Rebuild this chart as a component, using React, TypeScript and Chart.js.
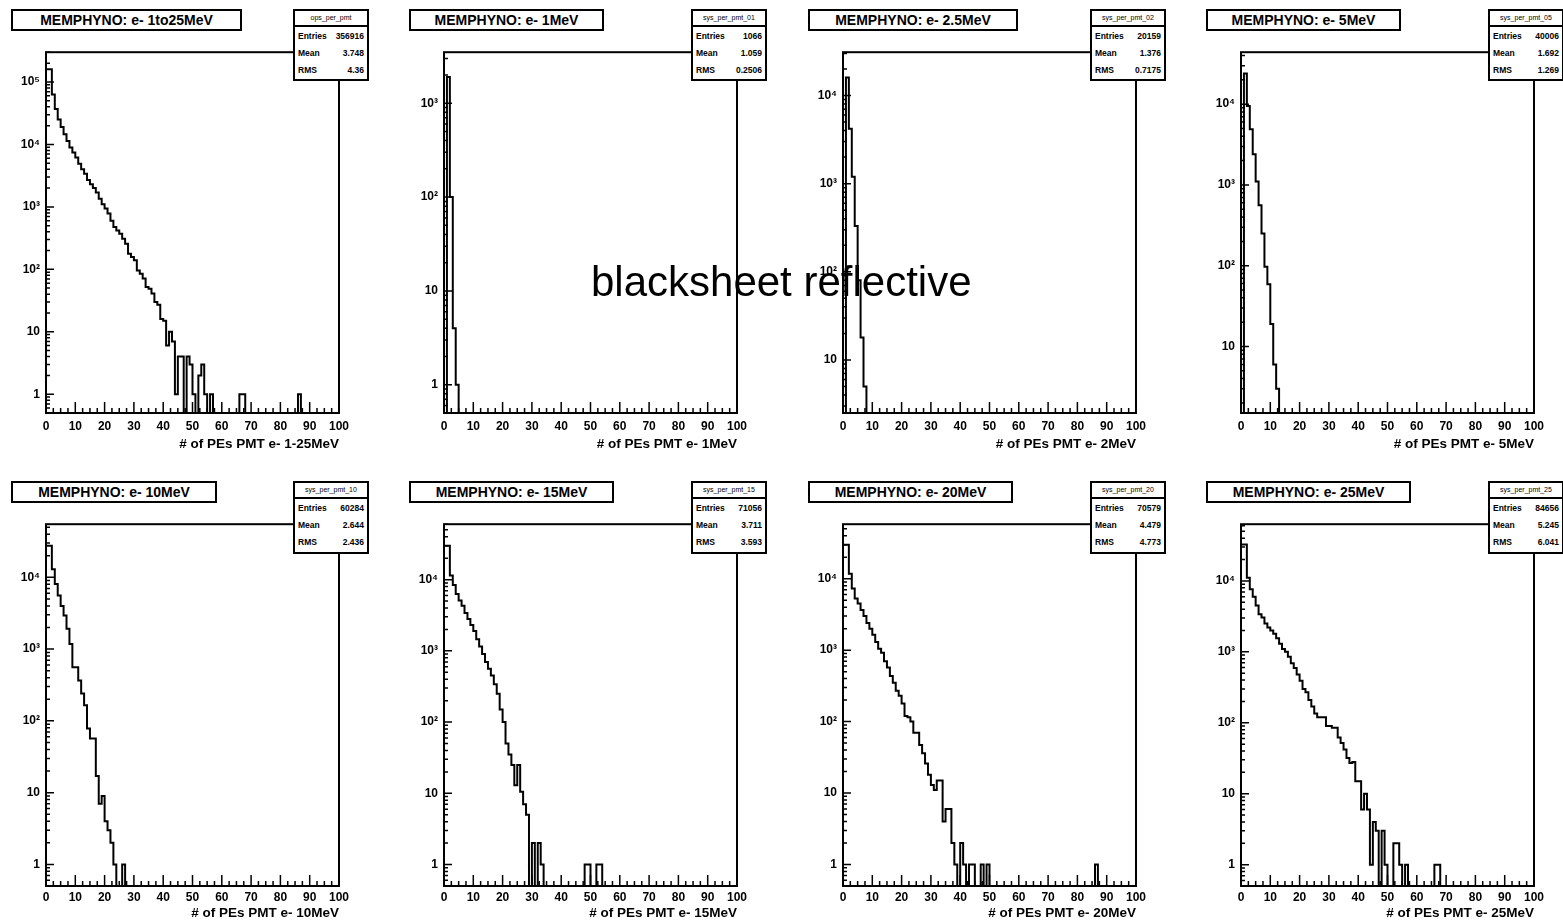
import React, { useEffect, useRef } from "react";
import { Chart, registerables } from "chart.js";

Chart.register(...registerables);

const FONT = '"Liberation Sans", Arial, Helvetica, sans-serif';

// ---------- text ----------
const panelTitles = [
  "MEMPHYNO: e- 1to25MeV",
  "MEMPHYNO: e- 1MeV",
  "MEMPHYNO: e- 2.5MeV",
  "MEMPHYNO: e- 5MeV",
  "MEMPHYNO: e- 10MeV",
  "MEMPHYNO: e- 15MeV",
  "MEMPHYNO: e- 20MeV",
  "MEMPHYNO: e- 25MeV",
];
const xAxisTitles = [
  "# of PEs PMT e- 1-25MeV",
  "# of PEs PMT e- 1MeV",
  "# of PEs PMT e- 2MeV",
  "# of PEs PMT e- 5MeV",
  "# of PEs PMT e- 10MeV",
  "# of PEs PMT e- 15MeV",
  "# of PEs PMT e- 20MeV",
  "# of PEs PMT e- 25MeV",
];
const statNames = [
  "ops_per_pmt",
  "sys_per_pmt_01",
  "sys_per_pmt_02",
  "sys_per_pmt_05",
  "sys_per_pmt_10",
  "sys_per_pmt_15",
  "sys_per_pmt_20",
  "sys_per_pmt_25",
];
const statEntries = ["356916", "1066", "20159", "40006", "60284", "71056", "70579", "84656"];
const statMeans = ["3.748", "1.059", "1.376", "1.692", "2.644", "3.711", "4.479", "5.245"];
const statRms = ["4.36", "0.2506", "0.7175", "1.269", "2.436", "3.593", "4.773", "6.041"];
const overlayText = "blacksheet reflective";

// ---------- axes ----------
const xMin = 0;
const xMax = 100;
const xStep = 10;
const yMins = [0.5, 0.5, 2.5, 1.5, 0.5, 0.5, 0.5, 0.5];
const yMaxs = [300000, 3500, 31000, 44000, 55000, 60000, 58000, 63000];

// ---------- bin contents (bins of width 1 starting at 0) ----------
const countsAll = [
  160000, 160000, 63000, 37000, 25000, 19000, 14500, 11400, 8900, 7400,
  6200, 4900, 4000, 3400, 2700, 2300, 2000, 1700, 1350, 1100,
  940, 780, 600, 475, 420, 370, 310, 257, 178, 158,
  140, 96, 85, 71, 52, 49, 41, 30, 27, 16,
  15, 6, 10, 7, 1, 4, 4, 0, 4, 3,
  1, 0, 2, 3, 1, 0, 1, 0, 0, 0,
  0, 0, 0, 0, 0, 0, 1, 1, 0, 0,
  0, 0, 0, 0, 0, 0, 0, 0, 0, 0,
  0, 0, 0, 0, 0, 0, 1,
];
const counts1MeV = [0, 1900, 100, 4, 1];
const counts2p5MeV = [0, 16000, 4200, 1200, 330, 80, 18, 5];
const counts5MeV = [0, 24000, 9500, 4900, 2400, 1100, 560, 250, 97, 59, 19, 6, 3];
const counts10MeV = [
  27500, 27500, 13000, 8100, 5600, 4000, 2950, 1920, 1180, 560,
  560, 365, 240, 165, 78, 57, 57, 17, 7, 9,
  4, 3, 2, 1, 0, 0, 1,
];
const counts15MeV = [
  30000, 30000, 11400, 8400, 6300, 5100, 4300, 3400, 2800, 2300,
  1900, 1450, 1150, 900, 700, 560, 450, 340, 250, 150,
  100, 50, 35, 25, 13, 25, 10.5, 7, 5, 0,
  2, 0, 2, 1, 0, 0, 0, 0, 0, 0,
  0, 0, 0, 0, 0, 0, 0, 0, 1, 1,
  0, 0, 1, 1,
];
const counts20MeV = [
  30000, 30000, 11700, 7300, 5300, 4500, 3650, 3000, 2400, 2000,
  1650, 1300, 1050, 920, 700, 570, 435, 350, 270, 230,
  180, 120, 115, 100, 70, 70, 47, 36, 26, 18,
  13, 11, 15, 15, 4, 6, 6, 2, 1, 0,
  2, 1, 0, 1, 1, 0, 0, 1, 0, 1,
  0, 0, 0, 0, 0, 0, 0, 0, 0, 0,
  0, 0, 0, 0, 0, 0, 0, 0, 0, 0,
  0, 0, 0, 0, 0, 0, 0, 0, 0, 0,
  0, 0, 0, 0, 0, 0, 1,
];
const counts25MeV = [
  32500, 32500, 11100, 7600, 6000, 4500, 3400, 3050, 2500, 2200,
  2000, 1800, 1550, 1300, 1100, 1000, 850, 690, 590, 480,
  390, 300, 270, 210, 170, 135, 120, 120, 120, 90,
  90, 85, 85, 62, 52, 42, 32, 27, 28, 15,
  15, 6, 10, 6, 1, 4, 3, 0, 3, 1,
  0, 0, 2, 2, 1, 0, 1, 0, 0, 0,
  0, 0, 0, 0, 0, 0, 1, 1,
];
const panelCounts = [
  countsAll, counts1MeV, counts2p5MeV, counts5MeV,
  counts10MeV, counts15MeV, counts20MeV, counts25MeV,
];

// ---------- layout (pixels) ----------
const FRAME_LEFT = [46, 444, 843, 1241];
const FRAME_TOP = [51, 523];
const FRAME_H = [362, 363];
const FRAME_W = 293;
const BOX_TOP = [9, 481];
const TITLE_W = [231, 195, 210, 195, 206, 205, 205, 205];
const AXIS_H = [44, 40];
const TICK_PAD = [6, 4];
const Y_AXIS_W = 40;
const PAD_TOP = 12;
const PAD_RIGHT = 16;
const BELOW_AXIS = 1e-3;

const SUP: Record<string, string> = { "2": "\u00b2", "3": "\u00b3", "4": "\u2074", "5": "\u2075", "6": "\u2076" };

function decadeLabel(v: number): string {
  const e = Math.round(Math.log10(v));
  if (e === 0) return "1";
  if (e === 1) return "10";
  return "10" + (SUP[String(e)] || "^" + e);
}

const rootAxesPlugin = {
  id: "rootAxes",
  afterDatasetsDraw(chart: any) {
    const { ctx, chartArea: a, scales } = chart;
    const xs = scales.x;
    const ys = scales.y;
    ctx.save();
    ctx.strokeStyle = "#000";
    ctx.lineWidth = 1.5;
    ctx.beginPath();
    const nDiv = 40;
    for (let k = 0; k <= nDiv; k++) {
      const v = xs.min + (k * (xs.max - xs.min)) / nDiv;
      const px = xs.getPixelForValue(v);
      const len = k % 4 === 0 ? 11 : 5;
      ctx.moveTo(px, a.bottom);
      ctx.lineTo(px, a.bottom - len);
    }
    const e0 = Math.floor(Math.log10(ys.min));
    const e1 = Math.ceil(Math.log10(ys.max));
    for (let e = e0; e <= e1; e++) {
      for (let m = 1; m <= 9; m++) {
        const v = m * Math.pow(10, e);
        if (v < ys.min || v > ys.max) continue;
        const py = ys.getPixelForValue(v);
        const len = m === 1 ? 8 : 4;
        ctx.moveTo(a.left, py);
        ctx.lineTo(a.left + len, py);
      }
    }
    ctx.stroke();
    ctx.lineWidth = 2;
    ctx.strokeRect(a.left, a.top, a.right - a.left, a.bottom - a.top);
    ctx.restore();
  },
};

function Panel({ index }: { index: number }) {
  const ref = useRef<HTMLCanvasElement>(null);
  const col = index % 4;
  const row = Math.floor(index / 4);
  const L = FRAME_LEFT[col];
  const T = FRAME_TOP[row];
  const H = FRAME_H[row];
  const cw = Y_AXIS_W + FRAME_W + PAD_RIGHT;
  const chh = PAD_TOP + H + AXIS_H[row];

  useEffect(() => {
    const counts = panelCounts[index];
    const pts = counts.map((v, i) => ({ x: xMin + i, y: v > 0 ? v : BELOW_AXIS }));
    pts.push({ x: xMin + counts.length, y: BELOW_AXIS });
    const yMin = yMins[index];
    const yMax = yMaxs[index];
    const tickFont = { family: FONT, size: 12, weight: "bold" as const };
    const chart = new Chart(ref.current as HTMLCanvasElement, {
      type: "line",
      data: {
        datasets: [
          {
            data: pts,
            borderColor: "#000",
            borderWidth: 2,
            pointRadius: 0,
            stepped: true,
            fill: false,
            tension: 0,
            borderJoinStyle: "miter",
          } as any,
        ],
      },
      options: {
        animation: false,
        responsive: false,
        events: [],
        layout: { padding: { top: PAD_TOP, right: PAD_RIGHT, left: 0, bottom: 0 } },
        plugins: {
          legend: { display: false },
          tooltip: { enabled: false },
          title: { display: false },
        },
        scales: {
          x: {
            type: "linear",
            min: xMin,
            max: xMax,
            bounds: "data",
            grid: { display: false, drawTicks: false },
            border: { display: false },
            ticks: {
              stepSize: xStep,
              padding: TICK_PAD[row],
              color: "#000",
              font: tickFont,
              maxRotation: 0,
              minRotation: 0,
              autoSkip: false,
            },
            title: {
              display: true,
              text: xAxisTitles[index],
              align: "end",
              color: "#000",
              font: { family: FONT, size: 13.5, weight: "bold" },
              padding: { top: 0, bottom: 5 },
            },
            afterFit: (s: any) => {
              s.height = AXIS_H[row];
            },
          },
          y: {
            type: "logarithmic",
            min: yMin,
            max: yMax,
            bounds: "data",
            grid: { display: false, drawTicks: false },
            border: { display: false },
            ticks: {
              padding: 6,
              color: "#000",
              font: tickFont,
              autoSkip: false,
              callback: (v: any) => decadeLabel(Number(v)),
            },
            afterBuildTicks: (s: any) => {
              const out: { value: number }[] = [];
              const a = Math.ceil(Math.log10(yMin) - 1e-9);
              const b = Math.floor(Math.log10(yMax) + 1e-9);
              for (let e = a; e <= b; e++) out.push({ value: Math.pow(10, e) });
              s.ticks = out;
            },
            afterFit: (s: any) => {
              s.width = Y_AXIS_W;
            },
          },
        },
      } as any,
      plugins: [rootAxesPlugin],
    });
    return () => chart.destroy();
  }, [index]);

  const boxTop = BOX_TOP[row];
  const statsLeft = L + FRAME_W - 46;
  const statsH = row === 0 ? 72 : 73;
  const rowStyle: React.CSSProperties = {
    display: "flex",
    justifyContent: "space-between",
    alignItems: "center",
    height: 17,
    padding: "0 3px",
    fontSize: 8.5,
    fontWeight: "bold",
    whiteSpace: "nowrap",
  };

  return (
    <>
      <canvas
        ref={ref}
        width={cw}
        height={chh}
        style={{ position: "absolute", left: L - Y_AXIS_W, top: T - PAD_TOP, width: cw, height: chh }}
      />
      <div
        style={{
          position: "absolute",
          left: L - 35,
          top: boxTop,
          width: TITLE_W[index],
          height: 22,
          boxSizing: "border-box",
          border: "2px solid #000",
          background: "#fff",
          fontFamily: FONT,
          fontWeight: "bold",
          fontSize: 14,
          lineHeight: "18px",
          textAlign: "center",
          color: "#000",
          whiteSpace: "nowrap",
        }}
      >
        {panelTitles[index]}
      </div>
      <div
        style={{
          position: "absolute",
          left: statsLeft,
          top: boxTop,
          width: 76,
          height: statsH,
          boxSizing: "border-box",
          border: "2px solid #000",
          background: "#fff",
          fontFamily: FONT,
          color: "#000",
        }}
      >
        <div
          style={{
            height: 14,
            borderBottom: "2px solid #000",
            fontSize: 7,
            lineHeight: "14px",
            textAlign: "center",
            whiteSpace: "nowrap",
          }}
        >
          {statNames[index]}
        </div>
        <div style={rowStyle}>
          <span>Entries</span>
          <span>{statEntries[index]}</span>
        </div>
        <div style={rowStyle}>
          <span>Mean</span>
          <span>{statMeans[index]}</span>
        </div>
        <div style={rowStyle}>
          <span>RMS</span>
          <span>{statRms[index]}</span>
        </div>
      </div>
    </>
  );
}

export default function App() {
  return (
    <div
      style={{
        position: "absolute",
        left: 0,
        top: 0,
        width: 1563,
        height: 924,
        overflow: "hidden",
        background: "#fff",
      }}
    >
      {panelTitles.map((_, i) => (
        <Panel key={i} index={i} />
      ))}
      <div
        style={{
          position: "absolute",
          left: 591,
          top: 261,
          fontFamily: FONT,
          fontSize: 42,
          lineHeight: "42px",
          color: "#000",
          whiteSpace: "nowrap",
        }}
      >
        {overlayText}
      </div>
    </div>
  );
}
